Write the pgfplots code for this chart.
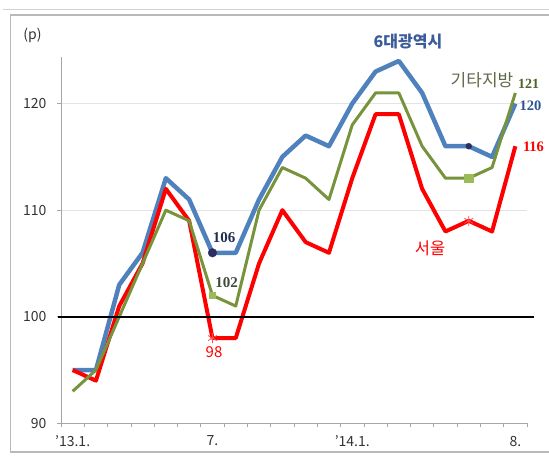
\documentclass[border=0pt]{standalone}
\usepackage{fontspec}
\setmainfont{Noto Sans CJK KR}
\newfontfamily\numserif{Liberation Serif}
\usepackage{pgfplots}
\pgfplotsset{compat=1.18}
\definecolor{cblue}{HTML}{4F81BD}
\definecolor{cgreen}{HTML}{77933C}
\definecolor{cred}{HTML}{FF0000}
\definecolor{axgray}{HTML}{A6A6A6}
\definecolor{gridgray}{HTML}{E3E3E3}
\definecolor{txtgray}{HTML}{333333}
\definecolor{navy}{HTML}{2B2F5E}
\definecolor{lgreen}{HTML}{9BBB59}
\definecolor{lblblue}{HTML}{3B5C99}
\definecolor{lblolive}{HTML}{5F6B4A}
\definecolor{numolive}{HTML}{4F6228}
\definecolor{numblue}{HTML}{2F5496}
\definecolor{numnavy}{HTML}{1F3050}
\definecolor{numgray}{HTML}{3F4A3A}
\begin{document}
\begin{tikzpicture}[x=1pt,y=1pt]
\path[use as bounding box] (0,0) rectangle (549,459);
\draw[gray!35, line width=1.2pt] (3,449.5) -- (549,449.5);
\draw[gray!55, line width=1.5pt] (10.5,7) rectangle (565,444);
\begin{axis}[
  at={(61pt,35.7pt)}, anchor=south west,
  scale only axis, width=466pt, height=366.6pt,
  xmin=-0.5, xmax=19.5, ymin=90, ymax=124.4,
  axis x line*=bottom, axis y line*=left,
  axis line style={-, axgray, line width=1pt},
  ytick={90,100,110,120},
  xtick={-0.5,0.5,...,19.5}, xticklabels={},
  extra x ticks={0,6,12,19},
  extra x tick labels={{'}13.1.,7.,{'}14.1.,8.},
  extra x tick style={major tick length=0pt, grid=none, xticklabel style={yshift=-9pt}},
  tick style={axgray, line width=0.8pt},
  major tick length=4pt, tick align=outside,
  ymajorgrids, grid style={gridgray, line width=0.7pt},
  tick label style={font=\fontsize{14}{16}\selectfont, text=txtgray},
  yticklabel style={xshift=-7pt},
  /pgf/number format/assume math mode=true,
  clip=false,
  line join=round,
]
\addplot[cblue, line width=4.5pt] coordinates {
 (0,95) (1,95) (2,103) (3,106) (4,113) (5,111) (6,106) (7,106) (8,111) (9,115)
 (10,117) (11,116) (12,120) (13,123) (14,124) (15,121) (16,116) (17,116) (18,115) (19,120)};
\addplot[cred, line width=4pt] coordinates {
 (0,95) (1,94) (2,101) (3,105) (4,112) (5,109) (6,98) (7,98) (8,105) (9,110)
 (10,107) (11,106) (12,113) (13,119) (14,119) (15,112) (16,108) (17,109) (18,108) (19,116)};
\addplot[cgreen, line width=3pt] coordinates {
 (0,93) (1,95) (2,100) (3,105) (4,110) (5,109) (6,102) (7,101) (8,110) (9,114)
 (10,113) (11,111) (12,118) (13,121) (14,121) (15,116) (16,113) (17,113) (18,114) (19,121)};
\addplot[black, line width=2pt] coordinates {(-0.63,100) (19.8,100)};
\addplot[only marks, mark=*, mark size=4.3pt, color=navy] coordinates {(6,106)};
\addplot[only marks, mark=*, mark size=3pt, color=navy] coordinates {(17,116)};
\addplot[only marks, mark=square*, mark size=3pt, color=lgreen] coordinates {(6,102)};
\addplot[only marks, mark=square*, mark size=4.3pt, color=lgreen] coordinates {(17,113)};
\addplot[only marks, mark=asterisk, mark size=5pt, color=cred!70, mark options={line width=0.8pt}] coordinates {(6,98) (17,109)};
\end{axis}
\node[text=txtgray, font=\fontsize{14}{16}\selectfont] at (32.5,424) {(p)};
\node[text=lblblue, font=\fontsize{16}{18}\selectfont\bfseries] at (408,417.5) {6대광역시};
\node[text=lblolive, font=\fontsize{17}{19}\selectfont] at (482,379) {기타지방};
\node[text=numolive, font=\fontsize{14}{16}\selectfont\numserif\bfseries] at (528.5,374.8) {121};
\node[text=numblue, font=\fontsize{14.5}{16}\selectfont\numserif\bfseries] at (530.5,353) {120};
\node[text=cred, font=\fontsize{14.5}{16}\selectfont\numserif\bfseries] at (533.5,312) {116};
\node[text=numnavy, font=\fontsize{15}{17}\selectfont\numserif\bfseries] at (224,221) {106};
\node[text=numgray, font=\fontsize{15}{17}\selectfont\numserif\bfseries] at (226.5,176) {102};
\node[text=cred, font=\fontsize{15}{17}\selectfont] at (214,106.5) {98};
\node[text=cred, font=\fontsize{16.5}{18}\selectfont] at (430,211) {서울};
\end{tikzpicture}
\end{document}
